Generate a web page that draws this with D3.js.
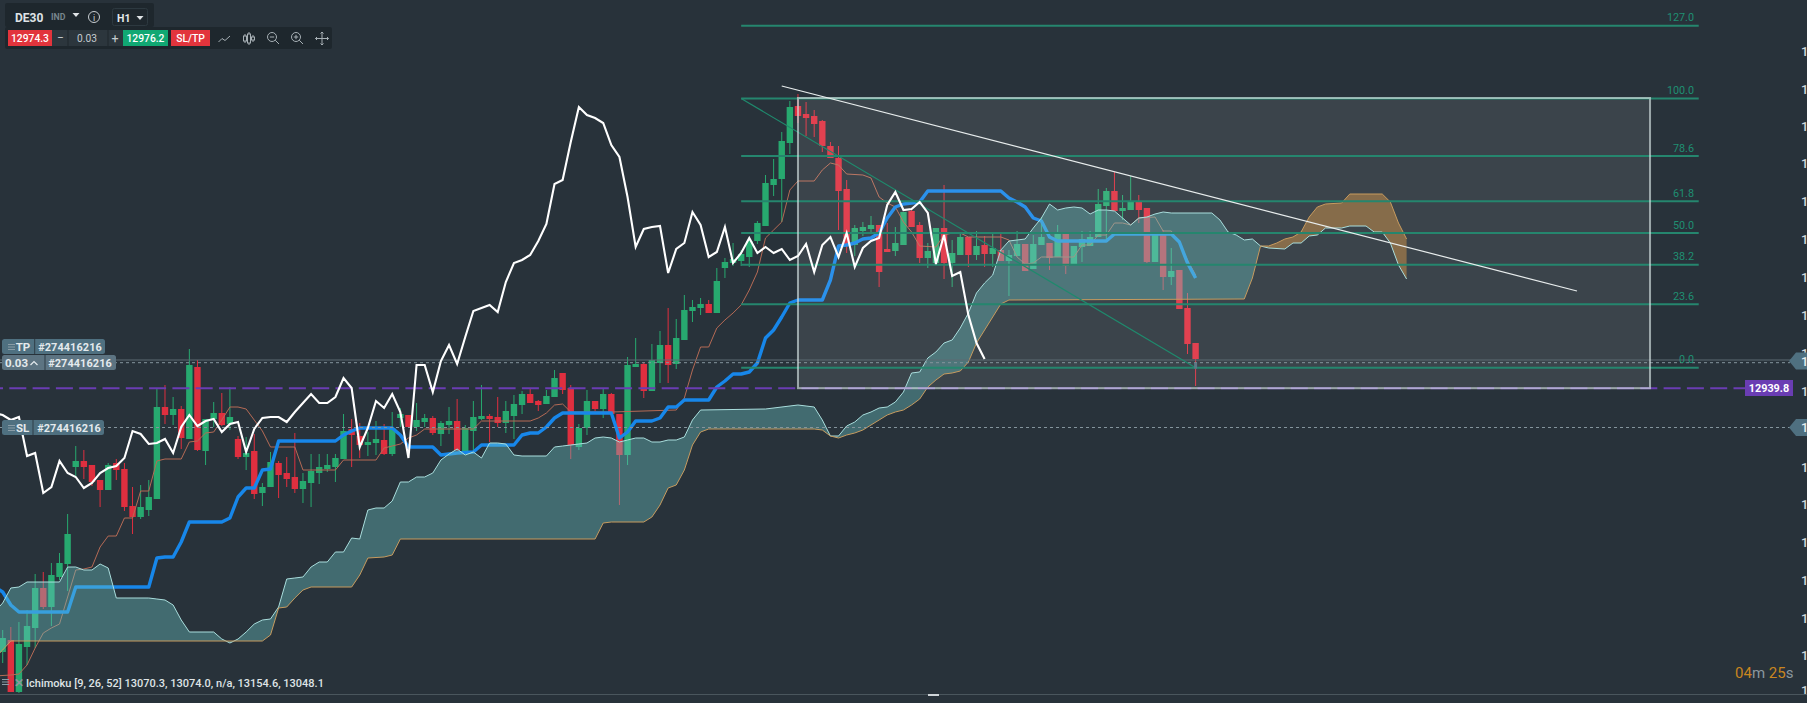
<!DOCTYPE html>
<html><head><meta charset="utf-8">
<script src="https://cdn.jsdelivr.net/npm/d3@7"></script>
<style>
html,body{margin:0;padding:0;background:#28323a;overflow:hidden}
svg{display:block;font-family:Roboto,"Open Sans",sans-serif}
</style></head><body>
<svg id="c" width="1807" height="703"></svg>
<script>
// ---------- DATA (bar index and price) ----------
const opens=[12676,12688,12636,12681,12700,12740,12721,12751,12764,12861,12867,12863,12848,12838,12865,12859,12822,12811,12818,12829,12921,12913,12919,12889,12961,12877,12909,12915,12904,12889,12871,12877,12835,12841,12865,12855,12851,12839,12845,12855,12859,12861,12869,12899,12892,12883,12885,12888,12874,12910,12913,12901,12906,12910,12894,12903,12907,12877,12897,12909,12912,12911,12905,12912,12923,12934,12927,12924,12931,12955,12940,12881,12900,12927,12919,12934,12914,12873,12961,12964,12937,12965,12983,12964,12988,13017,13020,13024,13015,13060,13065,13067,13071,13087,13102,13143,13149,13185,13222,13214,13212,13207,13182,13170,13139,13083,13097,13099,13103,13079,13077,13083,13117,13103,13070,13065,13100,13065,13073,13091,13073,13083,13074,13078,13067,13072,13084,13059,13083,13085,13071,13096,13063,13081,13082,13091,13122,13137,13117,13118,13126,13120,13066,13096,13051,13058,13020,12985];
const highs=[12698,12701,12706,12718,12754,12756,12765,12775,12814,12882,12878,12863,12848,12865,12869,12865,12841,12843,12848,12939,12943,12931,12922,12979,12968,12909,12926,12935,12941,12892,12891,12894,12845,12876,12867,12871,12895,12855,12874,12874,12874,12874,12914,12909,12905,12896,12907,12904,12916,12920,12913,12925,12914,12912,12907,12921,12929,12903,12927,12943,12914,12931,12927,12933,12937,12940,12928,12938,12958,12955,12943,12904,12938,12927,12939,12935,12914,12971,12990,12966,12984,12997,13020,13009,13033,13028,13030,13028,13060,13070,13085,13078,13091,13107,13153,13169,13196,13227,13234,13226,13218,13208,13186,13182,13148,13103,13106,13112,13103,13105,13101,13116,13118,13106,13085,13100,13143,13088,13094,13091,13097,13092,13095,13095,13078,13097,13084,13093,13111,13085,13103,13096,13082,13097,13097,13139,13140,13156,13133,13152,13133,13120,13096,13098,13080,13058,13035,12985];
const lows=[12665,12636,12635,12663,12680,12719,12702,12748,12737,12852,12849,12842,12821,12838,12848,12817,12794,12809,12812,12829,12904,12903,12879,12889,12877,12863,12901,12902,12898,12869,12858,12829,12822,12841,12830,12841,12835,12825,12821,12844,12856,12846,12869,12861,12870,12872,12873,12873,12872,12901,12900,12897,12901,12893,12882,12894,12877,12873,12876,12908,12886,12901,12895,12889,12914,12925,12917,12924,12931,12934,12869,12878,12893,12917,12910,12914,12823,12863,12961,12930,12937,12945,12945,12959,12988,13006,13013,13015,13015,13050,13062,13062,13061,13084,13102,13132,13106,13174,13205,13192,13191,13176,13170,13098,13075,13072,13092,13095,13041,13076,13072,13083,13101,13065,13060,13065,13049,13041,13073,13061,13068,13061,13061,13067,13032,13072,13057,13059,13083,13058,13071,13054,13063,13066,13082,13091,13088,13117,13108,13118,13105,13065,13066,13038,13043,13019,12974,12942];
const closes=[12690,12636,12684,12702,12740,12721,12753,12765,12794,12867,12861,12846,12838,12863,12858,12821,12811,12821,12831,12921,12913,12919,12890,12963,12878,12909,12915,12903,12911,12871,12875,12834,12841,12866,12853,12849,12839,12847,12857,12861,12863,12870,12897,12893,12883,12886,12889,12874,12900,12914,12901,12908,12910,12895,12905,12907,12878,12900,12911,12912,12909,12905,12917,12924,12934,12925,12923,12932,12950,12938,12883,12900,12927,12919,12934,12914,12873,12963,12964,12937,12968,12983,12963,12990,13018,13021,13024,13015,13047,13066,13069,13074,13087,13105,13145,13149,13187,13221,13212,13210,13204,13182,13170,13137,13083,13100,13101,13103,13056,13076,13085,13116,13101,13070,13077,13100,13065,13075,13091,13073,13082,13074,13080,13067,13073,13084,13057,13084,13091,13070,13096,13062,13082,13089,13091,13124,13137,13117,13120,13127,13118,13066,13096,13051,13057,13019,12984,12969];
const chikou=[12915,12913,12908,12911,12872,12875,12835,12841,12867,12855,12851,12840,12845,12855,12860,12862,12870,12897,12894,12884,12885,12889,12875,12901,12913,12902,12907,12909,12896,12904,12906,12876,12899,12910,12911,12911,12906,12916,12925,12934,12925,12925,12931,12950,12940,12881,12900,12927,12920,12934,12916,12870,12963,12963,12936,12967,12983,12964,12991,13017,13020,13023,13016,13046,13065,13068,13073,13087,13104,13144,13148,13186,13221,13213,13210,13205,13183,13171,13131,13081,13099,13101,13102,13055,13079,13085,13116,13103,13071,13076,13101,13065,13075,13090,13075,13081,13075,13079,13068,13072,13084,13056,13083,13091,13071,13095,13061,13080,13087,13090,13123,13136,13118,13119,13126,13115,13064,13093,13052,13056,13013,12985,12969];
const kijun=[[-1,12741],[0,12736],[1,12723],[2,12716],[8,12716],[9,12741],[18,12741],[19,12770],[20,12771],[21,12771],[22,12786],[23,12806],[27,12806],[28,12810],[29,12831],[30,12840],[31,12840],[32,12858],[33,12859],[34,12887],[41,12887],[42,12893],[43,12897],[44,12900],[48,12900],[49,12893],[50,12881],[53,12881],[54,12873],[55,12874],[56,12875],[58,12876],[59,12883],[63,12883],[64,12893],[65,12895],[66,12895],[67,12901],[68,12910],[69,12915],[75,12915],[76,12890],[77,12896],[78,12907],[80,12907],[81,12910],[82,12921],[83,12921],[84,12928],[87,12928],[88,12941],[89,12947],[90,12954],[91,12954],[92,12956],[93,12965],[94,12990],[95,12998],[96,13011],[97,13025],[98,13028],[101,13028],[102,13048],[103,13082],[104,13083],[105,13085],[106,13089],[107,13090],[108,13095],[109,13110],[110,13121],[111,13124],[112,13125],[113,13126],[114,13137],[123,13137],[124,13130],[125,13126],[126,13121],[127,13110],[128,13107],[129,13091],[130,13087],[136,13087],[137,13094],[144,13094],[145,13086],[146,13065],[147,13050]];
const tenkan=[[-1,12652],[1,12653],[2,12654],[3,12663],[4,12680],[5,12695],[6,12700],[7,12704],[8,12731],[9,12758],[10,12759],[11,12761],[12,12781],[13,12792],[14,12792],[15,12810],[16,12810],[17,12837],[18,12837],[19,12867],[20,12869],[22,12869],[23,12886],[24,12887],[25,12895],[26,12896],[27,12908],[28,12921],[29,12921],[30,12919],[31,12908],[32,12897],[33,12881],[36,12881],[37,12858],[41,12858],[42,12868],[46,12868],[47,12880],[48,12882],[49,12884],[50,12890],[51,12893],[52,12899],[58,12899],[59,12907],[65,12907],[66,12910],[67,12915],[68,12923],[69,12924],[70,12916],[75,12916],[83,12918],[84,12930],[85,12958],[86,12981],[87,12981],[88,13000],[89,13008],[90,13015],[91,13023],[92,13038],[93,13056],[94,13090],[95,13098],[96,13106],[97,13138],[98,13147],[100,13147],[101,13158],[102,13165],[103,13163],[104,13154],[106,13153],[107,13150],[108,13131],[109,13125],[110,13121],[111,13106],[112,13096],[113,13082],[115,13081],[116,13093],[117,13095],[118,13095],[119,13091],[123,13091],[124,13088],[125,13071],[126,13064],[127,13065],[128,13071],[132,13071],[133,13083],[134,13083],[135,13093],[136,13093],[137,13105],[138,13105],[139,13103],[140,13110],[142,13111],[143,13097],[144,13097],[145,13085],[146,13068],[147,13053]];
const spanA=[[-1,12716],[0,12725],[1,12740],[2,12741],[3,12746],[7,12746],[8,12761],[9,12761],[10,12758],[11,12758],[12,12764],[13,12760],[14,12730],[18,12730],[19,12729],[20,12728],[21,12723],[22,12708],[23,12696],[26,12696],[27,12689],[28,12685],[29,12689],[30,12696],[31,12704],[32,12708],[33,12709],[34,12721],[35,12749],[36,12750],[37,12751],[38,12761],[39,12766],[40,12766],[41,12776],[42,12776],[43,12790],[44,12789],[45,12818],[46,12820],[47,12820],[48,12827],[49,12846],[50,12846],[51,12851],[52,12851],[53,12855],[54,12868],[55,12874],[56,12879],[57,12873],[58,12876],[59,12870],[60,12885],[61,12885],[62,12884],[63,12873],[64,12872],[67,12872],[68,12881],[69,12882],[70,12883],[71,12884],[72,12885],[73,12890],[74,12891],[75,12890],[76,12886],[77,12888],[78,12890],[79,12890],[80,12886],[81,12886],[82,12888],[83,12888],[84,12891],[85,12908],[86,12918],[94,12919],[98,12923],[99,12922],[100,12921],[101,12908],[102,12892],[103,12892],[104,12902],[105,12906],[106,12913],[107,12916],[108,12920],[109,12921],[110,12926],[111,12936],[112,12955],[113,12956],[114,12970],[115,12976],[116,12985],[117,12988],[118,13000],[119,13015],[120,13035],[121,13045],[122,13053],[123,13078],[124,13087],[125,13088],[126,13089],[127,13100],[128,13110],[129,13124],[130,13118],[131,13120],[132,13121],[133,13120],[134,13114],[135,13118],[136,13118],[137,13117],[138,13110],[139,13103],[140,13110],[141,13111],[142,13114],[143,13116],[144,13115],[149,13115],[150,13108],[151,13096],[152,13093],[153,13088],[154,13089],[155,13082],[156,13080],[158,13079],[159,13085],[160,13085],[161,13092],[162,13093],[163,13100],[165,13100],[166,13102],[168,13102],[169,13096],[170,13096],[171,13085],[172,13063],[173,13049]];
const spanB=[[-1,12670],[0,12678],[1,12687],[32,12687],[33,12693],[34,12720],[35,12721],[36,12730],[37,12738],[38,12741],[43,12741],[44,12753],[45,12770],[47,12771],[48,12773],[49,12789],[73,12789],[74,12805],[75,12806],[79,12806],[80,12811],[81,12823],[82,12840],[83,12843],[84,12858],[85,12883],[86,12896],[87,12899],[100,12899],[101,12898],[102,12892],[103,12890],[104,12893],[105,12895],[106,12898],[107,12903],[108,12908],[109,12913],[110,12916],[111,12918],[112,12923],[113,12929],[114,12941],[115,12948],[116,12954],[117,12955],[118,12957],[119,12966],[120,12985],[121,12998],[122,13011],[123,13024],[124,13028],[153,13029],[154,13050],[155,13082],[156,13082],[157,13085],[158,13089],[159,13091],[160,13096],[161,13111],[162,13121],[163,13124],[165,13125],[166,13134],[170,13134],[171,13126],[172,13105],[173,13089]];
const twistBar=155;
const fibLevels=[127,100,78.6,61.8,50,38.2,23.6,0];
const fibHigh=13229.5, fibLow=12960.3;
const fibBars=[91,209], fibBoxBars=[98,203];
const fibBoxPrices=[13230,12939.8];
const fibDiagonal=[[91,13229.5],[147,12960.3]];
const trendLine=[[96,13242],[194,13037]];
const currentPrice=12939.8, tpPrice=12968, tpDash=12965.3, slPrice=12900.5;
const axisTicks=[13277,13239,13202,13165,13127,13089,13051,13013,12975,12937,12899,12861,12824,12786,12748,12710,12673,12638];
const axisLabel="1";
const orderId="#274416216";
const legendText="Ichimoku [9, 26, 52] 13070.3, 13074.0, n/a, 13154.6, 13048.1";

// ---------- SCALES ----------
const W=1807,H=703;
const x=d3.scaleLinear().domain([0,147]).range([2.7,1195.6]);
const y=d3.scaleLinear().domain([13328,12625]).range([0,703]);
const svg=d3.select("#c");
const UP="#27a96f",DOWN="#df2f3f",BG="#28323a";
svg.append("rect").attr("width",W).attr("height",H).attr("fill",BG);
const line=d3.line().x(d=>x(d[0])).y(d=>y(d[1]));

// candles
const bars=opens.map((o,i)=>({i,o,h:highs[i],l:lows[i],c:closes[i]}));
const cg=svg.append("g");
cg.selectAll("line").data(bars).join("line")
  .attr("x1",d=>x(d.i)).attr("x2",d=>x(d.i)).attr("y1",d=>y(d.h)).attr("y2",d=>y(d.l))
  .attr("stroke",d=>d.c>=d.o?UP:DOWN).attr("stroke-width",1);
cg.selectAll("rect").data(bars).join("rect")
  .attr("x",d=>x(d.i)-3.2).attr("width",6.4)
  .attr("y",d=>y(Math.max(d.o,d.c))).attr("height",d=>Math.max(1.5,Math.abs(y(d.o)-y(d.c))))
  .attr("fill",d=>d.c>=d.o?UP:DOWN);

// tenkan & kijun (under the cloud)
svg.append("path").datum(tenkan).attr("d",line).attr("fill","none").attr("stroke","#b56a55").attr("stroke-width",1);
svg.append("path").datum(kijun).attr("d",line).attr("fill","none").attr("stroke","#1787ea").attr("stroke-width",3.4).attr("stroke-linejoin","round");

// box fill
const [bx0,bx1]=fibBoxBars.map(x), [by0,by1]=fibBoxPrices.map(y);
svg.append("rect").attr("x",bx0).attr("y",by0).attr("width",bx1-bx0).attr("height",by1-by0).attr("fill","rgba(255,255,255,0.09)");

// cloud
function cloud(a,b,fill){
  const pts=a.concat(b.slice().reverse());
  svg.append("path").datum(pts).attr("d",d=>line(d)+"Z").attr("fill",fill);
}
cloud(spanA.filter(d=>d[0]<=twistBar),spanB.filter(d=>d[0]<=twistBar),"rgba(110,200,200,0.38)");
cloud(spanA.filter(d=>d[0]>=twistBar),spanB.filter(d=>d[0]>=twistBar),"rgba(196,142,74,0.55)");
svg.append("path").datum(spanA).attr("d",line).attr("fill","none").attr("stroke","#a9dedd").attr("stroke-width",1);
svg.append("path").datum(spanB).attr("d",line).attr("fill","none").attr("stroke","#c79b5f").attr("stroke-width",1);

// order lines
svg.append("line").attr("x1",0).attr("x2",W).attr("y1",y(tpPrice)).attr("y2",y(tpPrice)).attr("stroke","#5d6a72").attr("stroke-width",1);
[tpDash,slPrice].forEach(p=>svg.append("line").attr("x1",0).attr("x2",1790).attr("y1",y(p)).attr("y2",y(p))
  .attr("stroke","#84949c").attr("stroke-width",1).attr("stroke-dasharray","3,3"));

// Fibonacci
const fibY=l=>y(fibLow+(fibHigh-fibLow)*l/100);
const fg=svg.append("g");
fg.selectAll("line").data(fibLevels).join("line")
  .attr("x1",x(fibBars[0])).attr("x2",x(fibBars[1])).attr("y1",fibY).attr("y2",fibY)
  .attr("stroke","#25866e").attr("stroke-width",2);
fg.selectAll("text").data(fibLevels).join("text")
  .attr("x",1694).attr("y",d=>fibY(d)-4.5).attr("text-anchor","end")
  .attr("font-size",10.8).attr("fill","#1f8f72").text(d=>d.toFixed(1));
svg.append("path").datum(fibDiagonal).attr("d",line).attr("fill","none").attr("stroke","#1f8a6d").attr("stroke-width",1.2);

// current price dashed line
svg.append("line").attr("x1",0).attr("x2",1745).attr("y1",y(currentPrice)).attr("y2",y(currentPrice))
  .attr("stroke","#6a3db3").attr("stroke-width",2).attr("stroke-dasharray","17,6.3").attr("stroke-dashoffset",14);

// box border
svg.append("rect").attr("x",bx0).attr("y",by0).attr("width",bx1-bx0).attr("height",by1-by0)
  .attr("fill","none").attr("stroke","rgba(212,226,226,0.66)").attr("stroke-width",2);

// chikou and trend line on top
svg.append("path").datum(chikou.map((v,i)=>[i-1,v])).attr("d",line).attr("fill","none").attr("stroke","#fff").attr("stroke-width",2.1).attr("stroke-linejoin","miter");
svg.append("path").datum(trendLine).attr("d",line).attr("fill","none").attr("stroke","#e8eded").attr("stroke-width",1.2);
svg.append("rect").attr("x",x(147)-1.5).attr("y",y(tpDash)).attr("width",3).attr("height",6).attr("fill","#5b7886");

// price axis
const ax=svg.append("g").attr("transform","translate(1801,0)")
  .call(d3.axisRight(y).tickValues(axisTicks).tickSize(0).tickPadding(0).tickFormat(()=>axisLabel));
ax.select(".domain").remove();
ax.selectAll("text").attr("font-size",13).attr("font-family","Roboto").attr("font-weight",500).attr("fill","#d2d8db").attr("dy","0.36em");

// purple price label
svg.append("rect").attr("x",1745).attr("y",380).attr("width",48).attr("height",16).attr("fill","#6a3db3");
svg.append("text").attr("x",1769).attr("y",392).attr("text-anchor","middle").attr("font-size",10.8).attr("font-weight",700).attr("fill","#fff").text(currentPrice.toFixed(1));

// right-hand order flags
function flag(p){
  const c=y(p);
  svg.append("path").attr("d",`M1789,${c}L1796,${c-8.5}H1807V${c+8.5}H1796Z`).attr("fill","#4f7080");
  svg.append("text").attr("x",1801).attr("y",c+4.5).attr("font-size",13).attr("font-weight",500).attr("fill","#e6ecef").text(axisLabel);
}
flag(tpPrice-1); flag(slPrice);

// left order tags
function menu(g,xx,yy){[0,2.5,5].forEach(d=>g.append("rect").attr("x",xx).attr("y",yy+d).attr("width",7).attr("height",1).attr("fill","#8a9ca6"));}
function tag(x0,y0,w,div,label,labelX,idX,hasMenu,fill){
  const g=svg.append("g");
  g.append("rect").attr("x",x0).attr("y",y0).attr("width",w).attr("height",15).attr("rx",2.5).attr("fill",fill);
  g.append("line").attr("x1",div).attr("x2",div).attr("y1",y0).attr("y2",y0+15).attr("stroke","#2e3d47").attr("stroke-width",1);
  if(hasMenu) menu(g,8,y0+5);
  g.append("text").attr("x",labelX).attr("y",y0+11.5).attr("text-anchor","middle").attr("font-size",11.5).attr("font-weight",700).attr("fill","#e4eaed").text(label);
  g.append("text").attr("x",idX).attr("y",y0+11.5).attr("text-anchor","middle").attr("font-size",10.9).attr("font-weight",700).attr("letter-spacing",0.1).attr("fill","#e4eaed").text(orderId);
  return g;
}
const lotTag=tag(2,355,114,45,"0.03",16.5,80,false,"#5d7482");
lotTag.append("path").attr("d","M30.5,365l3.5,-3.5l3.5,3.5").attr("fill","none").attr("stroke","#e4eaed").attr("stroke-width",1.2);
tag(2,339,103,34.7,"TP",23,70,true,"#4f7080");
tag(2,420,102,33,"SL",22.7,69,true,"#4f7080");

// toolbar
const tb=svg.append("g");
tb.append("rect").attr("x",5).attr("y",3).attr("width",149).attr("height",24).attr("rx",2).attr("fill","#1e272d");
tb.append("rect").attr("x",5).attr("y",27).attr("width",327).attr("height",22).attr("rx",2).attr("fill","#1e272d");
const t=(s,xx,yy,o={})=>tb.append("text").attr("x",xx).attr("y",yy).attr("font-size",o.fs||12).attr("font-weight",o.w||400)
  .attr("text-anchor",o.a||"start").attr("fill",o.c||"#e6eaec").text(s);
t("DE30",15,21.5,{fs:12,w:700,c:"#dfe3e6"});
t("IND",51,20.3,{fs:8.8,w:700,c:"#76848c"});
const caret=(xx,yy,c)=>tb.append("path").attr("d",`M${xx-3.5},${yy-2}h7l-3.5,4z`).attr("fill",c||"#dfe3e6");
caret(76,15);
tb.append("circle").attr("cx",94).attr("cy",17).attr("r",5.5).attr("fill","none").attr("stroke","#c8ced2");
t("i",94,20.5,{fs:9,a:"middle",c:"#c8ced2"});
tb.append("rect").attr("x",112.5).attr("y",8.5).attr("width",35).attr("height",17).attr("rx",2).attr("fill","none").attr("stroke","#2d3940");
t("H1",117,21.5,{fs:10.5,w:700});
caret(140,18);
tb.append("rect").attr("x",8).attr("y",30).attr("width",44).attr("height",16).attr("fill","#e2343c");
t("12974.3",30,41.7,{fs:10.3,w:500,a:"middle",c:"#fff"});
tb.append("rect").attr("x",52).attr("y",30).attr("width",71).attr("height",16).attr("fill","#2c363d");
t("−",60.5,42,{fs:12,a:"middle",c:"#c5cbcf"});
t("0.03",87,42,{fs:10.2,a:"middle",c:"#c5cbcf"});
t("+",115,42.5,{fs:12.5,a:"middle",c:"#c5cbcf"});
[68,108].forEach(v=>tb.append("line").attr("x1",v).attr("x2",v).attr("y1",30).attr("y2",46).attr("stroke","#1e272d"));
tb.append("rect").attr("x",123).attr("y",30).attr("width",45).attr("height",16).attr("fill","#11a873");
t("12976.2",145.5,41.7,{fs:10.3,w:500,a:"middle",c:"#fff"});
tb.append("rect").attr("x",171).attr("y",30).attr("width",39).attr("height",16).attr("fill","#e2343c");
t("SL/TP",190.5,41.7,{fs:10.3,w:500,a:"middle",c:"#fff"});
const ic="#a7b0b5";
tb.append("path").attr("d","M218.5,42L222,38.5L225,40.5L230,36").attr("fill","none").attr("stroke",ic);
[[245,34,43],[249,32,45],[253,35,42]].forEach(d=>{tb.append("line").attr("x1",d[0]).attr("x2",d[0]).attr("y1",d[1]).attr("y2",d[2]).attr("stroke",ic);
 tb.append("rect").attr("x",d[0]-1.5).attr("y",d[1]+2).attr("width",3).attr("height",d[2]-d[1]-4).attr("fill","#1e272d").attr("stroke",ic);});
[[272,true],[296,false]].forEach(([cx,minus])=>{
  tb.append("circle").attr("cx",cx).attr("cy",37).attr("r",4.5).attr("fill","none").attr("stroke",ic);
  tb.append("path").attr("d",`M${cx+3.2},40.2L${cx+7},44M${cx-2.2},37h4.4`+(minus?"":`M${cx},34.8v4.4`)).attr("stroke",ic).attr("fill","none");
});
tb.append("path").attr("d","M322,32v13M315.5,38.5h13M320.5,33.5l1.5,-1.5l1.5,1.5M320.5,43.5l1.5,1.5l1.5,-1.5M317,37l-1.5,1.5l1.5,1.5M327,37l1.5,1.5l-1.5,1.5").attr("fill","none").attr("stroke",ic);

// legend + footer
menu(svg,2,679);
svg.append("text").attr("x",14).attr("y",687).attr("font-size",11.5).attr("font-weight",700).attr("fill","#8a969c").text("✕");
svg.append("text").attr("x",26).attr("y",687).attr("font-size",11).attr("font-weight",500).attr("fill","#dfe4e6").text(legendText);
svg.append("line").attr("x1",0).attr("x2",W).attr("y1",694.5).attr("y2",694.5).attr("stroke","#4a565d").attr("stroke-width",1);
svg.append("rect").attr("x",928).attr("y",694).attr("width",11).attr("height",2).attr("fill","#cfd5d8");
const timer=svg.append("text").attr("x",1735).attr("y",678).attr("font-size",15).attr("fill","#c9861f");
timer.append("tspan").text("04");
timer.append("tspan").attr("fill","#8b979e").text("m ");
timer.append("tspan").text("25");
timer.append("tspan").attr("fill","#8b979e").text("s");
</script></body></html>
